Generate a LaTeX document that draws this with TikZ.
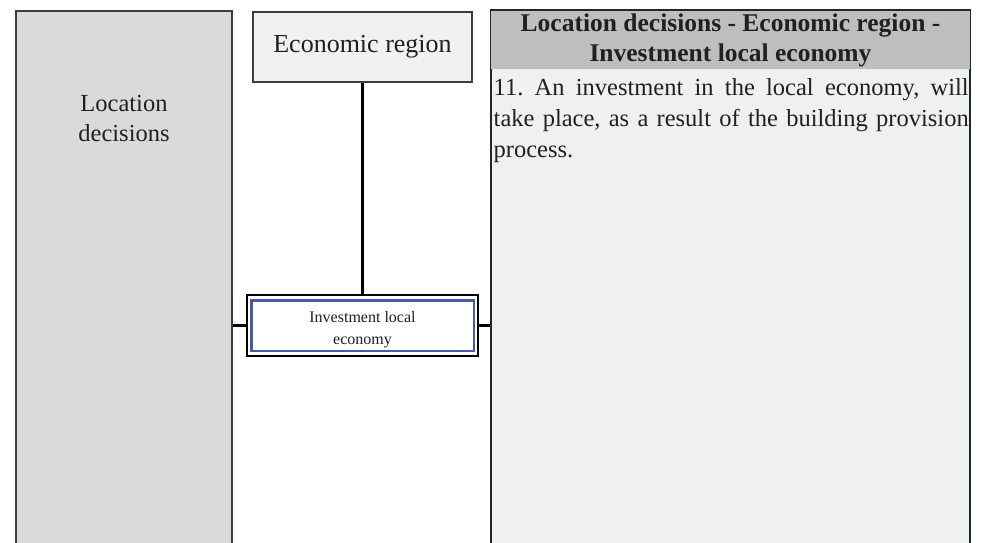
\documentclass[tikz,border=0pt]{standalone}
\usepackage{fontspec}
\setmainfont{Liberation Serif}
\frenchspacing
\definecolor{inkdark}{HTML}{231F20}
\definecolor{panelgray}{HTML}{D9DBDA}
\definecolor{panelline}{HTML}{3C3C3C}
\definecolor{boxfill}{HTML}{F0F1F1}
\definecolor{headfill}{HTML}{BCBEC0}
\definecolor{bodyfill}{HTML}{EFF0F0}
\definecolor{descline}{HTML}{1E2B25}
\definecolor{innerblue}{HTML}{4B5AA8}
\tikzset{
  panel/.style={draw=panelline, line width=2.2pt, fill=panelgray, inner sep=0pt},
  topicbox/.style={draw=panelline, line width=2.2pt, fill=boxfill, inner sep=0pt,
    minimum width=219pt, minimum height=70pt, text=inkdark,
    font=\fontsize{26}{30}\selectfont},
  itembox/.style={draw=black, line width=2.4pt, fill=white, inner sep=0pt,
    minimum width=231pt, minimum height=61pt},
  itemtext/.style={text=inkdark, align=center, inner sep=0pt,
    font=\fontsize{16}{22}\selectfont},
  link/.style={draw=black, line width=2.8pt},
}
\begin{document}
\begin{tikzpicture}[x=1pt, y=-1pt]
  \useasboundingbox (0,0) rectangle (985,542);
  \clip (0,0) rectangle (985,542);
  \fill[white] (0,0) rectangle (985,542);

  % left column
  \node[panel, minimum width=216pt, minimum height=540pt] (loc) at (124,281) {};
  \node[text=inkdark, align=center, font=\fontsize{24.5}{30}\selectfont]
    (loctext) at (124,119) {Location\\decisions};

  % right column: header band and body
  \node[panel, draw=descline, fill=bodyfill, minimum width=479pt, minimum height=540pt]
    (desc) at (730.5,281) {};
  \fill[headfill] ([shift={(1.1,1.1)}]desc.north west) rectangle ([shift={(-1.1,59)}]desc.north east);
  \draw[descline, line width=2.2pt] (desc.north west) -- (desc.north east);
  \node[text=inkdark, align=center, font=\bfseries\fontsize{25.5}{30}\selectfont]
    (deschead) at (730.5,40.5) {Location decisions - Economic region -\\Investment local economy};
  \node[text=inkdark, anchor=north west, inner sep=0pt, text width=475pt, align=justify,
    font=\fontsize{24.5}{31}\selectfont] (descbody) at (493.5,78)
    {11. An investment in the local economy, will\linebreak take place, as a result of the building provision\linebreak process.};

  % middle column
  \node[topicbox] (econ) at (362.5,47) {Economic region};
  \node[itembox] (inv) at (362.5,325.5) {};
  \node[itemtext] (invtext) at (362.5,330) {Investment local\\economy};
  \draw[innerblue, line width=2.4pt]
    ([shift={(5.5,6.5)}]inv.north west) rectangle ([shift={(-5.5,-6.5)}]inv.south east);

  % connectors
  \draw[link] (econ.south) -- (inv.north);
  \draw[link] (inv.west) -- (inv.west -| loc.east);
  \draw[link] (inv.east) -- (inv.east -| desc.west);
\end{tikzpicture}
\end{document}
